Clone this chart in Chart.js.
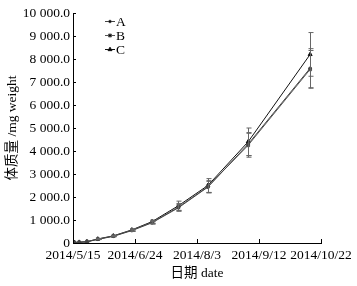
<!DOCTYPE html>
<html>
<head>
<meta charset="utf-8">
<script src="https://cdn.jsdelivr.net/npm/chart.js@4/dist/chart.umd.min.js"></script>
<style>
  html, body { margin: 0; padding: 0; background: #fff; }
  #wrap { width: 357px; height: 286px; }
</style>
</head>
<body>
<div id="wrap"><canvas id="weightChart" width="357" height="286"></canvas></div>
<script>
// sampling dates, as days after 2014/5/15
const dayOffsets = [1, 4, 9, 16, 26, 38, 51, 68, 87, 113, 153];

// body weight (mg) per group
const seriesA = [15, 30, 50, 160, 290, 540, 880, 1530, 2430, 4300, 7600];
const seriesB = [15, 30, 55, 170, 300, 560, 900, 1560, 2450, 4250, 7550];
const seriesC = [20, 35, 60, 175, 310, 570, 930, 1620, 2500, 4400, 8200];

// standard deviation per point
const errA = [0, 0, 0, 10, 20, 40, 60, 150, 250, 500, 850];
const errB = [0, 0, 0, 10, 20, 40, 60, 160, 260, 520, 820];
const errC = [0, 0, 0, 10, 20, 40, 70, 200, 300, 600, 950];

const seriesNames = ['A', 'B', 'C'];
const xTickDays = [0, 40, 80, 120, 160];
const xTickLabels = ['2014/5/15', '2014/6/24', '2014/8/3', '2014/9/12', '2014/10/22'];

const FONT = '"Liberation Serif", "Noto Sans CJK SC", serif';
const FSIZE = 13.5;

function fmtThousands(v) {
    if (v === 0) return '0';
    return Math.round(v).toString().replace(/\B(?=(\d{3})+(?!\d))/g, ' ') + '.0';
}

function toPoints(vals) {
    return vals.map((v, i) => ({ x: dayOffsets[i], y: v }));
}

// error bars, drawn through the chart's scales
const errorBars = {
    id: 'errorBars',
    afterDatasetsDraw(chart) {
        const { ctx, scales: { x, y } } = chart;
        const errs = [errA, errB, errC];
        ctx.save();
        ctx.strokeStyle = '#666';
        ctx.lineWidth = 1;
        chart.data.datasets.forEach((ds, k) => {
            ds.data.forEach((p, i) => {
                const e = errs[k][i];
                if (!e) return;
                const px = Math.round(x.getPixelForValue(p.x)) + 0.5;
                const top = y.getPixelForValue(p.y + e);
                const bot = y.getPixelForValue(p.y - e);
                ctx.beginPath();
                ctx.moveTo(px, top); ctx.lineTo(px, bot);
                ctx.moveTo(px - 2, top); ctx.lineTo(px + 3, top);
                ctx.moveTo(px - 2, bot); ctx.lineTo(px + 3, bot);
                ctx.stroke();
            });
        });
        ctx.restore();
    }
};

// inward tick marks and the in-plot legend
const axisExtras = {
    id: 'axisExtras',
    afterDraw(chart) {
        const { ctx, scales: { x, y }, chartArea } = chart;
        ctx.save();
        ctx.strokeStyle = '#000';
        ctx.lineWidth = 1;
        ctx.beginPath();
        y.ticks.forEach(t => {
            const py = Math.round(y.getPixelForValue(t.value)) + 0.5;
            ctx.moveTo(chartArea.left, py); ctx.lineTo(chartArea.left + 3, py);
        });
        xTickDays.forEach(d => {
            const px = Math.round(x.getPixelForValue(d)) + 0.5;
            ctx.moveTo(px, chartArea.bottom); ctx.lineTo(px, chartArea.bottom - 4);
        });
        ctx.stroke();

        // legend
        const lx = 105, ly = [21, 35, 49];
        chart.data.datasets.forEach((ds, k) => {
            ctx.strokeStyle = ds.borderColor;
            ctx.beginPath();
            ctx.moveTo(lx, ly[k] + 0.5); ctx.lineTo(lx + 10, ly[k] + 0.5);
            ctx.stroke();
            Chart.helpers.drawPoint(ctx, {
                pointStyle: ds.pointStyle, radius: ds.pointRadius, borderWidth: 1
            }, lx + 5, ly[k] + 0.5);
            ctx.fillStyle = '#000';
            ctx.font = FSIZE + 'px ' + FONT;
            ctx.textBaseline = 'middle';
            ctx.fillText(seriesNames[k], lx + 11, ly[k] + 1);
        });
        ctx.restore();
    }
};

function makeDataset(label, vals, color, style, r) {
    return {
        label: label,
        data: toPoints(vals),
        borderColor: color,
        backgroundColor: color,
        borderWidth: 1,
        pointStyle: style,
        pointRadius: r,
        pointBorderWidth: 1,
        tension: 0
    };
}

const ctx = document.getElementById('weightChart').getContext('2d');
const chart = new Chart(ctx, {
    type: 'line',
    data: {
        datasets: [
            makeDataset('A', seriesA, '#444', 'circle', 1.3),
            makeDataset('B', seriesB, '#555', 'rect', 2),
            makeDataset('C', seriesC, '#111', 'triangle', 2.3)
        ]
    },
    options: {
        responsive: false,
        animation: false,
        layout: { padding: { left: 0, right: 36, top: 13, bottom: 0 } },
        plugins: {
            legend: { display: false },
            tooltip: { enabled: false }
        },
        scales: {
            x: {
                type: 'linear',
                min: 0,
                max: 160,
                afterBuildTicks: s => { s.ticks = xTickDays.map(v => ({ value: v })); },
                afterFit: s => { s.height = 43; },
                ticks: {
                    color: '#000',
                    font: { family: FONT, size: FSIZE },
                    padding: 4,
                    maxRotation: 0,
                    autoSkip: false,
                    callback: (v) => xTickLabels[xTickDays.indexOf(v)]
                },
                grid: { display: true, drawOnChartArea: false, drawTicks: false, color: '#000' },
                border: { display: true, color: '#000', width: 1 },
                title: {
                    display: true,
                    text: '日期 date',
                    color: '#000',
                    font: { family: FONT, size: FSIZE },
                    padding: { top: 2, bottom: 4 }
                }
            },
            y: {
                min: 0,
                max: 10000,
                afterFit: s => { s.width = 73; },
                ticks: {
                    stepSize: 1000,
                    color: '#000',
                    font: { family: FONT, size: FSIZE },
                    padding: 3,
                    callback: v => fmtThousands(v)
                },
                grid: { display: true, drawOnChartArea: false, drawTicks: false, color: '#000' },
                border: { display: true, color: '#000', width: 1 },
                title: {
                    display: true,
                    text: '体质量 /mg weight',
                    color: '#000',
                    font: { family: FONT, size: FSIZE },
                    padding: { top: 4, bottom: 0 }
                }
            }
        }
    },
    plugins: [errorBars, axisExtras]
});
</script>
</body>
</html>
